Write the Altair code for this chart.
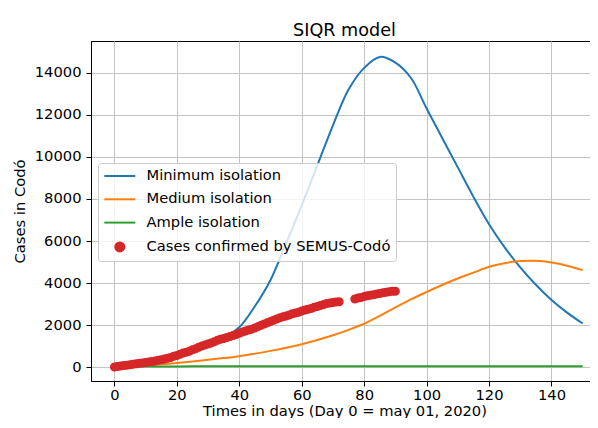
import altair as alt
import pandas as pd

# ---- data ----
model_days = list(range(0, 151, 5))
minimum_isolation = [110, 160, 230, 330, 480, 690, 990, 1400, 1900, 2900, 4150,
                     5900, 7700, 9600, 11500, 13200, 14230, 14750, 14480, 13750, 12300,
                     10900, 9500, 8100, 6800, 5700, 4750, 3920, 3200, 2600, 2080]
medium_isolation = [30, 55, 90, 140, 210, 280, 360, 440, 530, 650, 780,
                    930, 1100, 1300, 1520, 1780, 2070, 2440, 2850, 3230, 3580,
                    3910, 4220, 4500, 4780, 4950, 5050, 5060, 4980, 4830, 4620]
ample_isolation = [30, 35, 40, 42, 44, 45, 45, 45, 45, 45, 45,
                   45, 45, 45, 45, 45, 45, 45, 45, 45, 45,
                   45, 45, 45, 45, 45, 45, 45, 45, 45, 45]

case_days = list(range(0, 73)) + list(range(77, 91))
case_values = [10, 40, 60, 80, 100, 120, 150, 170, 195, 210,
               230, 250, 280, 300, 330, 360, 390, 430, 470, 520,
               560, 620, 680, 720, 760, 830, 880, 950, 1010, 1060,
               1110, 1160, 1220, 1290, 1330, 1370, 1420, 1460, 1510, 1560,
               1620, 1680, 1730, 1770, 1810, 1870, 1940, 2000, 2060, 2120,
               2180, 2240, 2300, 2350, 2400, 2440, 2490, 2540, 2580, 2620,
               2670, 2720, 2760, 2800, 2850, 2890, 2940, 2990, 3030, 3060,
               3080, 3100, 3120,
               3250, 3290, 3320, 3360, 3400, 3430, 3450, 3480, 3510, 3540,
               3570, 3590, 3610, 3620]

series_names = ["Minimum isolation", "Medium isolation", "Ample isolation",
                "Cases confirmed by SEMUS-Codó"]
series_colors = ["#1f77b4", "#ff7f0e", "#2ca02c", "#d62728"]

x_ticks = list(range(0, 141, 20))
y_ticks = list(range(0, 14001, 2000))

# ---- tables ----
rows = []
for name, vals in zip(series_names[:3], [minimum_isolation, medium_isolation, ample_isolation]):
    for d, v in zip(model_days, vals):
        rows.append({"day": d, "value": v, "series": name})
lines_df = pd.DataFrame(rows)
cases_df = pd.DataFrame({"day": case_days, "value": case_values,
                         "series": series_names[3]})


def circle_path(radii):
    parts = []
    for r in radii:
        parts.append(f"M{-r},0A{r},{r} 0 1,0 {r},0A{r},{r} 0 1,0 {-r},0Z")
    return "".join(parts)


# symbol size 196 -> path unit = 7 px
SYM_SIZE = 196
line_shape = "M-2.214,0L2.214,0"
dot_shape = circle_path([0.643, 0.5, 0.36, 0.22, 0.08])
shape_range = [line_shape, line_shape, line_shape, dot_shape]

FONT = "DejaVu Sans"
FS = 14.7

x_enc = alt.X("day:Q",
              scale=alt.Scale(domain=[-7.5, 154.9], nice=False, zero=False),
              axis=alt.Axis(values=x_ticks, title="Times in days (Day 0 = may 01, 2020)"))
y_enc = alt.Y("value:Q",
              scale=alt.Scale(domain=[-651, 15507], nice=False, zero=False),
              axis=alt.Axis(values=y_ticks, format="d", title="Cases in Codó"))

legend = alt.Legend(title=None, orient="none", legendX=7, legendY=122,
                    padding=5, labelOffset=18.7, symbolOffset=8.8, rowPadding=8.3,
                    symbolSize=SYM_SIZE, symbolStrokeWidth=2, labelLimit=400,
                    labelFontSize=FS, labelFont=FONT, labelColor="black",
                    strokeColor="#cccccc", fillColor="rgba(255,255,255,0.8)",
                    cornerRadius=3)

color_enc = alt.Color("series:N",
                      scale=alt.Scale(domain=series_names, range=series_colors),
                      legend=legend)
shape_enc = alt.Shape("series:N",
                      scale=alt.Scale(domain=series_names, range=shape_range),
                      legend=legend)

lines = alt.Chart(lines_df).mark_line(strokeWidth=2, interpolate="catmull-rom").encode(
    x=x_enc, y=y_enc, color=color_enc, detail="series:N"
)
points = alt.Chart(cases_df).mark_point(filled=True, size=SYM_SIZE, opacity=1).encode(
    x=x_enc, y=y_enc, color=color_enc, shape=shape_enc
)

chart = alt.layer(lines, points).properties(
    width=507, height=340,
    title=alt.TitleParams("SIQR model", fontSize=17.6, font=FONT, fontWeight="normal",
                          anchor="middle", offset=1, color="black"),
    autosize=alt.AutoSizeParams(type="none"),
    padding={"left": 83, "top": 33, "right": -8, "bottom": 37},
).configure_view(
    stroke="black", strokeWidth=1
).configure_axis(
    labelFont=FONT, labelFontSize=FS, labelColor="black",
    titleFont=FONT, titleFontSize=FS, titleColor="black", titleFontWeight="normal",
    grid=True, gridColor="#c4c4c4", gridWidth=1,
    domainColor="black", domainWidth=1,
    tickColor="black", tickSize=5, tickWidth=1,
).configure_axisX(
    labelPadding=1, titlePadding=2
).configure_axisY(
    labelPadding=5, titlePadding=7
)

chart.save("out.html", embed_options={"renderer": "svg", "actions": False})
